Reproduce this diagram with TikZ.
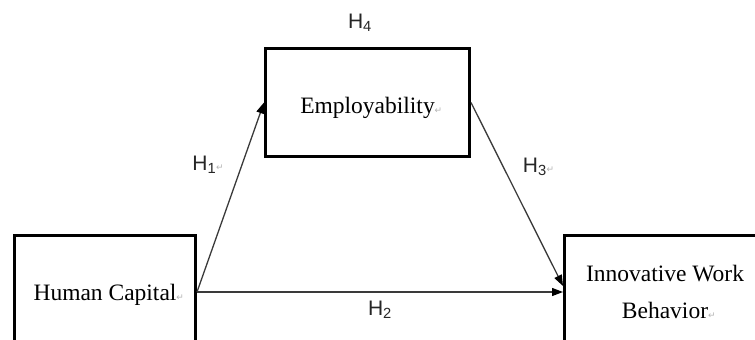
\documentclass[tikz,border=0pt]{standalone}
\usepackage{fontspec}
\setmainfont{Liberation Serif}
\newfontfamily\hypfont{Liberation Sans}
\newfontfamily\markfont{DejaVu Sans}
\usepackage{xcolor}
\usetikzlibrary{positioning,arrows.meta}
\definecolor{linegray}{HTML}{3A3A3A}
\definecolor{markgray}{HTML}{B4B4B4}
\newcommand{\parmark}{\rlap{{\markfont\fontsize{9}{9}\selectfont\textcolor{markgray}{↵}}}}
\newcommand{\hyp}[1]{H\textsubscript{#1}}
\tikzset{
  varbox/.style={draw, line width=3pt, align=center, inner sep=0pt, text depth=0pt, font=\fontsize{23.5}{37}\selectfont},
  hyplabel/.style={font=\hypfont\fontsize{21}{21}\selectfont, text=black!85, inner sep=2pt},
  effect/.style={-{Triangle[length=11pt, width=8pt, color=black]}, line width=1.3pt, draw=linegray}
}

\begin{document}
\begin{tikzpicture}[x=1pt, y=-1pt]
  \useasboundingbox (0,0) rectangle (755,340);
  \clip (0,0) rectangle (755,340);

  % variables
  \node[varbox, minimum width=204pt, minimum height=108pt, text height=21pt] (emp) at (367.5,102.5) {Employability\parmark};
  \node[varbox, minimum width=181pt, minimum height=113pt] (hc) at (105,292) {Human Capital\parmark};
  \node[varbox, minimum width=201pt, minimum height=113pt] (iwb) at (665,292) {Innovative Work\\Behavior\parmark};

  % hypotheses
  \node[hyplabel, above=13pt of emp, xshift=-7.5pt] (h4) {\hyp{4}};
  \draw[effect] (hc.east) -- node[hyplabel, pos=0.67, left=23pt] (h1) {\hyp{1}\parmark} (emp.west);
  \draw[effect] (hc.east) -- node[hyplabel, midway, below=6pt] (h2) {\hyp{2}} (iwb.west);
  \draw[effect] (emp.east) -- node[hyplabel, pos=0.35, right=17pt] (h3) {\hyp{3}\parmark} ([yshift=6pt]iwb.west);
\end{tikzpicture}
\end{document}
